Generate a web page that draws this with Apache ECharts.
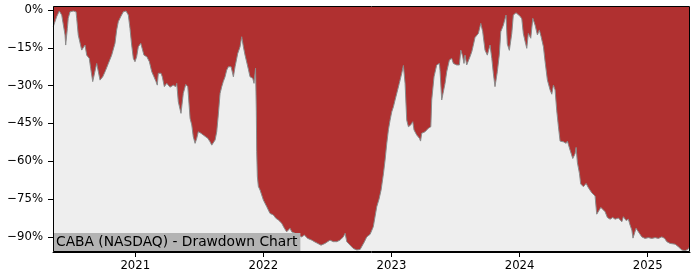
<!DOCTYPE html>
<html>
<head>
<meta charset="utf-8">
<script src="https://cdn.jsdelivr.net/npm/echarts@6/dist/echarts.min.js"></script>
<style>
html,body{margin:0;padding:0;background:#fff;}
#chart{width:700px;height:280px;}
</style>
</head>
<body>
<div id="chart"></div>
<script>
// Decimal-year dates of the drawdown series
const dates = [
2020.360,2020.366,2020.387,2020.407,2020.426,2020.438,2020.452,2020.457,2020.470,2020.477,
2020.491,2020.516,2020.538,2020.543,2020.555,2020.569,2020.582,2020.595,2020.608,2020.621,
2020.641,2020.652,2020.668,2020.678,2020.699,2020.712,2020.725,2020.738,2020.746,2020.764,
2020.790,2020.816,2020.842,2020.855,2020.868,2020.887,2020.907,2020.928,2020.946,2020.959,
2020.972,2020.985,2020.998,2021.011,2021.024,2021.043,2021.058,2021.068,2021.090,2021.110,
2021.129,2021.146,2021.162,2021.172,2021.180,2021.201,2021.211,2021.227,2021.246,2021.258,
2021.271,2021.297,2021.316,2021.324,2021.336,2021.357,2021.375,2021.394,2021.410,2021.428,
2021.441,2021.453,2021.467,2021.480,2021.492,2021.513,2021.531,2021.545,2021.566,2021.584,
2021.597,2021.609,2021.623,2021.636,2021.648,2021.662,2021.675,2021.687,2021.701,2021.714,
2021.727,2021.748,2021.766,2021.779,2021.800,2021.818,2021.831,2021.844,2021.857,2021.870,
2021.883,2021.896,2021.917,2021.927,2021.939,2021.945,2021.948,2021.953,2021.961,2021.974,
2022.000,2022.026,2022.052,2022.078,2022.097,2022.117,2022.143,2022.164,2022.182,2022.208,
2022.221,2022.247,2022.268,2022.299,2022.320,2022.346,2022.378,2022.398,2022.424,2022.450,
2022.481,2022.495,2022.520,2022.546,2022.573,2022.598,2022.624,2022.638,2022.651,2022.677,
2022.702,2022.729,2022.755,2022.768,2022.788,2022.807,2022.833,2022.858,2022.885,2022.903,
2022.919,2022.937,2022.950,2022.963,2022.976,2022.989,2023.002,2023.015,2023.028,2023.041,
2023.061,2023.080,2023.093,2023.106,2023.119,2023.132,2023.150,2023.166,2023.176,2023.197,
2023.218,2023.227,2023.236,2023.262,2023.288,2023.307,2023.314,2023.332,2023.353,2023.374,
2023.379,2023.392,2023.405,2023.418,2023.431,2023.452,2023.470,2023.483,2023.496,2023.509,
2023.530,2023.541,2023.556,2023.566,2023.574,2023.587,2023.600,2023.613,2023.627,2023.639,
2023.652,2023.678,2023.697,2023.712,2023.730,2023.748,2023.769,2023.783,2023.795,2023.808,
2023.826,2023.842,2023.853,2023.873,2023.894,2023.904,2023.920,2023.939,2023.951,2023.972,
2023.983,2024.004,2024.017,2024.029,2024.043,2024.056,2024.068,2024.087,2024.103,2024.121,
2024.139,2024.154,2024.168,2024.186,2024.199,2024.217,2024.238,2024.251,2024.264,2024.277,
2024.290,2024.303,2024.316,2024.342,2024.363,2024.373,2024.394,2024.415,2024.433,2024.441,
2024.451,2024.467,2024.477,2024.498,2024.519,2024.537,2024.563,2024.589,2024.602,2024.615,
2024.634,2024.649,2024.667,2024.685,2024.706,2024.727,2024.745,2024.771,2024.798,2024.810,
2024.831,2024.849,2024.862,2024.876,2024.885,2024.892,2024.909,2024.927,2024.954,2024.979,
2025.005,2025.032,2025.058,2025.083,2025.110,2025.122,2025.132,2025.149,2025.175,2025.214,
2025.239,2025.266,2025.292,2025.317,2025.326
];
// Drawdown in percent
const drawdown = [
-6.6,-6.6,-2.6,-0.4,-2.0,-2.6,-9.9,-13.9,-7.3,-3.3,
-0.7,-0.4,-0.7,-3.3,-9.9,-10.6,-15.9,-16.5,-13.9,-17.9,
-19.2,-23.1,-28.4,-29.1,-21.2,-24.5,-27.8,-28.4,-26.5,-24.5,
-21.2,-17.9,-13.2,-7.9,-4.6,-2.6,-0.7,-0.4,-2.0,-7.3,
-13.9,-19.2,-20.5,-18.5,-14.6,-13.2,-13.2,-17.9,-18.5,-20.5,
-24.5,-26.5,-28.4,-29.8,-25.1,-25.1,-26.5,-30.4,-29.1,-28.4,
-30.6,-29.8,-30.4,-29.1,-36.4,-41.0,-33.1,-29.5,-30.4,-43.0,
-45.6,-50.3,-52.9,-50.9,-48.3,-48.9,-49.6,-48.9,-50.9,-52.3,
-53.6,-53.6,-51.6,-48.3,-41.7,-33.1,-30.4,-28.4,-26.5,-23.8,
-22.5,-22.5,-26.5,-22.5,-17.2,-14.6,-10.6,-14.6,-17.9,-18.5,
-23.5,-26.5,-27.1,-29.1,-23.1,-40.0,-56.2,-66.0,-70.0,-71.4,
-75.4,-78.0,-80.7,-81.3,-82.6,-83.3,-84.6,-86.6,-88.0,-86.6,
-88.0,-88.6,-89.3,-90.0,-89.3,-90.6,-91.3,-91.9,-92.6,-93.3,
-92.6,-93.3,-91.3,-91.9,-91.9,-91.3,-90.0,-88.6,-91.9,-93.3,
-94.6,-95.2,-95.0,-94.5,-92.0,-90.0,-89.0,-86.0,-78.0,-75.0,
-71.4,-65.0,-59.5,-53.0,-47.5,-43.7,-40.4,-38.4,-35.7,-33.1,
-29.1,-25.1,-22.0,-29.1,-43.7,-46.3,-45.6,-44.3,-47.6,-49.6,
-50.9,-52.0,-48.9,-48.3,-46.9,-46.3,-35.7,-26.5,-21.8,-21.2,
-24.0,-35.7,-36.4,-29.1,-24.5,-19.8,-19.2,-21.2,-20.5,-21.8,
-21.8,-15.9,-18.5,-21.2,-17.9,-21.8,-22.5,-18.5,-16.5,-13.9,
-10.9,-9.3,-5.3,-8.6,-15.9,-17.9,-13.9,-19.2,-25.1,-30.4,
-24.5,-17.5,-8.6,-6.0,-2.0,-13.5,-16.0,-9.3,-2.0,-1.1,
-0.5,-2.5,-3.5,-9.3,-12.5,-15.2,-9.3,-11.2,-3.3,-6.0,
-9.9,-7.9,-10.6,-14.6,-20.5,-27.8,-31.7,-33.4,-29.8,-31.7,
-40.0,-46.3,-52.0,-52.3,-52.9,-52.0,-55.6,-58.9,-57.0,-54.5,
-60.5,-64.8,-69.0,-70.1,-68.8,-70.5,-72.5,-73.8,-81.0,-81.3,
-78.3,-78.0,-80.0,-82.3,-83.0,-82.3,-83.0,-82.5,-84.0,-82.0,
-83.5,-83.0,-85.3,-87.3,-90.5,-91.0,-86.6,-88.0,-90.0,-90.6,
-90.3,-90.6,-90.3,-90.6,-90.0,-89.6,-90.6,-91.9,-92.6,-92.9,
-93.9,-95.2,-95.5,-94.8,-94.0
];
const xTicks = [2021, 2022, 2023, 2024, 2025];
const yTicks = [0, -15, -30, -45, -60, -75, -90];
const titleText = 'CABA (NASDAQ) - Drawdown Chart';

const points = dates.map((d, i) => [d, drawdown[i]]);
const font = 'DejaVu Sans';
const chart = echarts.init(document.getElementById('chart'), null, {renderer: 'canvas'});
chart.setOption({
  animation: false,
  backgroundColor: '#ffffff',
  title: {
    text: titleText,
    left: 53, bottom: 28,
    backgroundColor: '#b3b3b3',
    padding: [2, 3, 2, 3],
    itemGap: 0,
    textStyle: {fontFamily: font, fontSize: 13.8, fontWeight: 'normal', color: '#000', lineHeight: 15},
    z: 10
  },
  grid: {
    left: 53, top: 7, right: 10, bottom: 28,
    show: true, backgroundColor: '#eeeeee', borderWidth: 0
  },
  xAxis: {
    type: 'value',
    min: 2020.358, max: 2025.33,
    splitLine: {show: false},
    axisLine: {show: true, onZero: false, lineStyle: {color: '#000', width: 1}},
    axisTick: {show: true, customValues: xTicks, length: 5, lineStyle: {color: '#000'}},
    axisLabel: {customValues: xTicks, formatter: v => String(Math.round(v)), fontFamily: font, fontSize: 11.7, color: '#000', margin: 8}
  },
  yAxis: {
    type: 'value',
    min: -96, max: 1.2,
    splitLine: {show: false},
    axisLine: {show: true, onZero: false, lineStyle: {color: '#000', width: 1}},
    axisTick: {show: true, customValues: yTicks, length: 5, lineStyle: {color: '#000'}},
    axisLabel: {customValues: yTicks, formatter: v => (v < 0 ? '\u2212' : '') + Math.abs(Math.round(v)) + '%', fontFamily: font, fontSize: 11.7, color: '#000', margin: 10}
  },
  series: [{
    type: 'line',
    data: points,
    symbol: 'none',
    smooth: false,
    lineStyle: {color: '#8a8a8a', width: 1},
    areaStyle: {origin: 'end', color: '#b03030', opacity: 1},
    z: 2
  }],
  graphic: [{
    type: 'rect',
    shape: {x: 53.5, y: 6.5, width: 636, height: 245},
    style: {fill: 'none', stroke: '#000', lineWidth: 1},
    z: 50, silent: true
  }]
});
</script>
</body>
</html>
